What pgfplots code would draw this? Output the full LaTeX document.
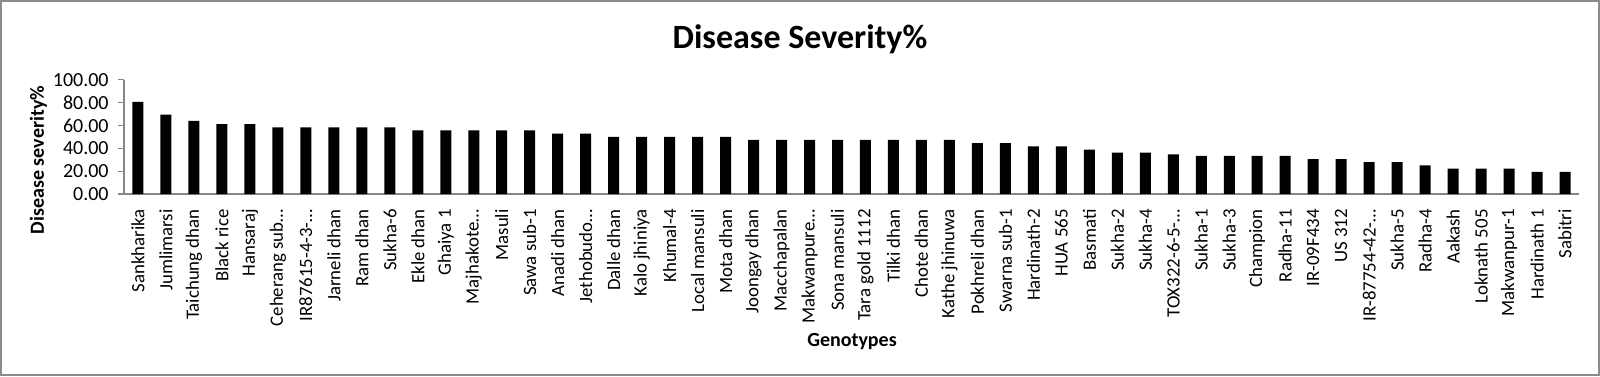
\documentclass[border=0pt]{standalone}
\usepackage{pgfplots}
\pgfplotsset{compat=1.18}
\usepackage{fontspec}
\setmainfont{Carlito}
\definecolor{axgray}{HTML}{868686}
\definecolor{framegray}{HTML}{8C8C8C}
\begin{document}
\begin{tikzpicture}
\useasboundingbox (-62pt,-91pt) rectangle (738pt,97pt);
\draw[framegray,line width=0.6pt] (-61.5pt,-90.5pt) rectangle (737.5pt,96.5pt);
\begin{axis}[
  at={(0,0)}, anchor=south west,
  scale only axis, width=727.5pt, height=57.2pt,
  xmin=-0.5, xmax=51.5, ymin=0, ymax=100,
  axis x line*=bottom, axis y line*=left,
  axis line style={axgray, line width=0.6pt},
  xtick={0,...,51},
  xticklabels={Sankharika,Jumlimarsi,Taichung dhan,Black rice,Hansaraj,Ceherang sub…,IR87615-4-3-…,Jarneli dhan,Ram dhan,Sukha-6,Ekle dhan,Ghaiya 1,Majhakote…,Masuli,Sawa sub-1,Anadi dhan,Jethobudo…,Dalle dhan,Kalo jhiniya,Khumal-4,Local mansuli,Mota dhan,Joongay dhan,Macchapalan,Makwanpure…,Sona mansuli,Tara gold 1112,Tilki dhan,Chote dhan,Kathe jhinuwa,Pokhreli dhan,Swarna sub-1,Hardinath-2,HUA 565,Basmati,Sukha-2,Sukha-4,TOX322-6-5-…,Sukha-1,Sukha-3,Champion,Radha-11,IR-09F434,US 312,IR-87754-42-…,Sukha-5,Radha-4,Aakash,Loknath 505,Makwanpur-1,Hardinath 1,Sabitri},
  minor xtick={-0.5,0.5,...,51.5},
  x tick style={draw=none},
  minor x tick style={axgray, line width=0.6pt},
  minor tick length=3pt,
  ytick={0,20,...,100},
  y tick style={axgray, line width=0.6pt},
  major tick length=3pt,
  tick align=outside,
  xticklabel style={rotate=90, anchor=east, inner sep=0pt, font=\fontsize{9.4}{11}\selectfont},
  xticklabel shift=4.5pt,
  yticklabel style={inner sep=0pt, font=\fontsize{10}{12}\selectfont},
  yticklabel shift=4.5pt,
  /pgf/number format/assume math mode=true,
  yticklabel={\pgfmathprintnumber[fixed,fixed zerofill,precision=2]{\tick}},
  scaled y ticks=false,
  ybar, bar width=5.5pt,
]
\addplot[fill=black, draw=none] coordinates {
(0,80.56) (1,69.44) (2,63.89) (3,61.11) (4,61.11) (5,58.33) (6,58.33) (7,58.33) (8,58.33) (9,58.33)
(10,55.56) (11,55.56) (12,55.56) (13,55.56) (14,55.56) (15,52.78) (16,52.78) (17,50.00) (18,50.00) (19,50.00)
(20,50.00) (21,50.00) (22,47.22) (23,47.22) (24,47.22) (25,47.22) (26,47.22) (27,47.22) (28,47.22) (29,47.22)
(30,44.44) (31,44.44) (32,41.67) (33,41.67) (34,38.89) (35,36.11) (36,36.11) (37,34.72) (38,33.33) (39,33.33)
(40,33.33) (41,33.33) (42,30.56) (43,30.56) (44,27.78) (45,27.78) (46,25.00) (47,22.22) (48,22.22) (49,22.22)
(50,19.44) (51,19.44)
};
\end{axis}
\node[font=\fontsize{17}{20}\selectfont\bfseries, anchor=base] at (338pt,72.85pt) {Disease Severity\%};
\node[font=\fontsize{10}{12}\selectfont\bfseries, anchor=base] at (364pt,-76.25pt) {Genotypes};
\node[font=\fontsize{10}{12}\selectfont\bfseries, rotate=90] at (-42.75pt,17pt) {Disease severity\%};
\end{tikzpicture}
\end{document}
